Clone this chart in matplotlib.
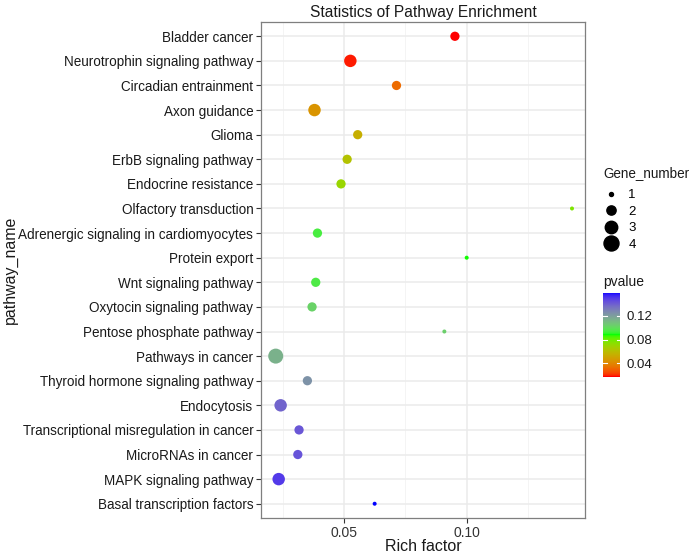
import numpy as np
import matplotlib
matplotlib.use("Agg")
import matplotlib.pyplot as plt
from matplotlib.colors import ListedColormap, Normalize
from matplotlib.lines import Line2D

plt.rcParams['font.family'] = ['Liberation Sans', 'DejaVu Sans']

pathways = [
    "Bladder cancer", "Neurotrophin signaling pathway", "Circadian entrainment",
    "Axon guidance", "Glioma", "ErbB signaling pathway", "Endocrine resistance",
    "Olfactory transduction", "Adrenergic signaling in cardiomyocytes",
    "Protein export", "Wnt signaling pathway", "Oxytocin signaling pathway",
    "Pentose phosphate pathway", "Pathways in cancer",
    "Thyroid hormone signaling pathway", "Endocytosis",
    "Transcriptional misregulation in cancer", "MicroRNAs in cancer",
    "MAPK signaling pathway", "Basal transcription factors",
]
rich_factor = [0.0952, 0.0526, 0.0714, 0.0380, 0.0556, 0.0513, 0.0488, 0.1429,
               0.0392, 0.1000, 0.0385, 0.0370, 0.0909, 0.0222, 0.0351, 0.0242,
               0.0317, 0.0312, 0.0234, 0.0625]
gene_number = [2, 3, 2, 3, 2, 2, 2, 1, 2, 1, 2, 2, 1, 4, 2, 3, 2, 2, 3, 1]
pvalue = [0.0174, 0.019, 0.032, 0.045, 0.054, 0.062, 0.070, 0.077, 0.094, 0.088,
          0.095, 0.103, 0.104, 0.114, 0.124, 0.138, 0.142, 0.143, 0.150, 0.159]
size_legend = [1, 2, 3, 4]
pvalue_ticks = [0.04, 0.08, 0.12]
x_ticks = [0.05, 0.10]
x_tick_labels = ["0.05", "0.10"]

# ---- Lab-interpolated gradient (red -> green -> blue) ----
M = np.array([[0.4124, 0.3576, 0.1805], [0.2126, 0.7152, 0.0722], [0.0193, 0.1192, 0.9505]])
WHITE = np.array([0.95047, 1.0, 1.08883])

def srgb_to_lab(rgb):
    rgb = np.asarray(rgb, float)
    lin = np.where(rgb <= 0.04045, rgb / 12.92, ((rgb + 0.055) / 1.055) ** 2.4)
    xyz = M @ lin / WHITE
    d = 6 / 29
    f = np.where(xyz > d ** 3, np.cbrt(xyz), xyz / (3 * d * d) + 4 / 29)
    return np.array([116 * f[1] - 16, 500 * (f[0] - f[1]), 200 * (f[1] - f[2])])

def lab_to_srgb(lab):
    L, a, b = lab
    fy = (L + 16) / 116
    fx = fy + a / 500
    fz = fy - b / 200
    d = 6 / 29
    finv = lambda t: np.where(t > d, t ** 3, 3 * d * d * (t - 4 / 29))
    xyz = np.array([finv(fx), finv(fy), finv(fz)]) * WHITE
    lin = np.clip(np.linalg.inv(M) @ xyz, 0, 1)
    rgb = np.where(lin <= 0.0031308, 12.92 * lin, 1.055 * lin ** (1 / 2.4) - 0.055)
    return np.clip(rgb, 0, 1)

stops = [srgb_to_lab([1, 0, 0]), srgb_to_lab([0, 1, 0]), srgb_to_lab([0, 0, 1])]
cols = []
for t in np.linspace(0, 1, 256):
    if t <= 0.5:
        u = t / 0.5
        lab = stops[0] * (1 - u) + stops[1] * u
    else:
        u = (t - 0.5) / 0.5
        lab = stops[1] * (1 - u) + stops[2] * u
    cols.append(lab_to_srgb(lab))
cmap = ListedColormap(cols)
norm = Normalize(vmin=min(pvalue), vmax=max(pvalue))

def size_of(g):
    d_px = np.sqrt(16 + 69.7 * (np.asarray(g, float) - 1))
    d_pt = d_px * 72 / 100
    return d_pt ** 2

W, H = 692, 553
fig = plt.figure(figsize=(W / 100, H / 100), dpi=100)
ax = fig.add_axes([261 / W, 1 - 518 / H, (585 - 261) / W, (518 - 22) / H])

ypos = np.arange(len(pathways))
ax.scatter(rich_factor, ypos, s=size_of(gene_number), c=pvalue, cmap=cmap, norm=norm,
           linewidths=0, zorder=3)

ax.set_ylim(len(pathways) - 1 + 0.58, -0.58)
ax.set_xlim(0.0162, 0.1482)
ax.set_yticks(ypos)
ax.set_yticklabels(pathways, fontsize=9.75, color="#1a1a1a")
ax.set_xticks(x_ticks)
ax.set_xticklabels(x_tick_labels, fontsize=10, color="#333333")
ax.set_xticks([0.025, 0.075, 0.125], minor=True)
ax.tick_params(axis="both", which="major", length=3.5, width=0.8, color="#333333", pad=2)
ax.tick_params(axis="x", which="minor", length=0)
ax.grid(True, which="major", color="#EBEBEB", linewidth=1.1, zorder=0)
ax.grid(True, which="minor", axis="x", color="#F2F2F2", linewidth=0.6, zorder=0)
ax.set_axisbelow(True)
for sp in ax.spines.values():
    sp.set_color("#7f7f7f")
    sp.set_linewidth(0.9)

ax.set_title("Statistics of Pathway Enrichment", fontsize=11.2, color="#1a1a1a", pad=3.5)
ax.set_xlabel("Rich factor", fontsize=11.5, color="#1a1a1a")
ax.xaxis.set_label_coords(0.5, -0.042)
ax.set_ylabel("pathway_name", fontsize=11.5, color="#1a1a1a", va="center")
ax.yaxis.set_label_coords((10 - 261) / 324, 0.5)

# size legend
fig.text(603 / W, 1 - 173 / H, "Gene_number", fontsize=9.75, color="#1a1a1a",
         ha="left", va="center")
handles = [Line2D([], [], linestyle="none", marker="o", color="black",
                  markersize=np.sqrt(size_of(g))) for g in size_legend]
leg = fig.legend(handles, [str(g) for g in size_legend],
                 loc="upper left", bbox_to_anchor=(603 / W, 1 - 189 / H),
                 frameon=False, fontsize=9.5,
                 handletextpad=0.72, labelspacing=0.33, handlelength=1.2,
                 borderpad=0, borderaxespad=0)

# colorbar
cax = fig.add_axes([603.3 / W, 1 - 376.7 / H, 16.7 / W, 84 / H])
cb = fig.colorbar(plt.cm.ScalarMappable(norm=norm, cmap=cmap), cax=cax)
cb.outline.set_visible(False)
cb.set_ticks(pvalue_ticks)
cb.set_ticklabels([f"{v:.2f}" for v in pvalue_ticks])
cax.tick_params(length=0, labelsize=9.5, pad=5, labelcolor="#1a1a1a")
for v in pvalue_ticks:
    cax.axhline(v, xmin=0, xmax=0.2, color="white", linewidth=0.8)
    cax.axhline(v, xmin=0.8, xmax=1, color="white", linewidth=0.8)
fig.text(603 / W, 1 - 282 / H, "pvalue", fontsize=10, color="#1a1a1a", va="center", ha="left")

fig.savefig("out.png", dpi=100)
